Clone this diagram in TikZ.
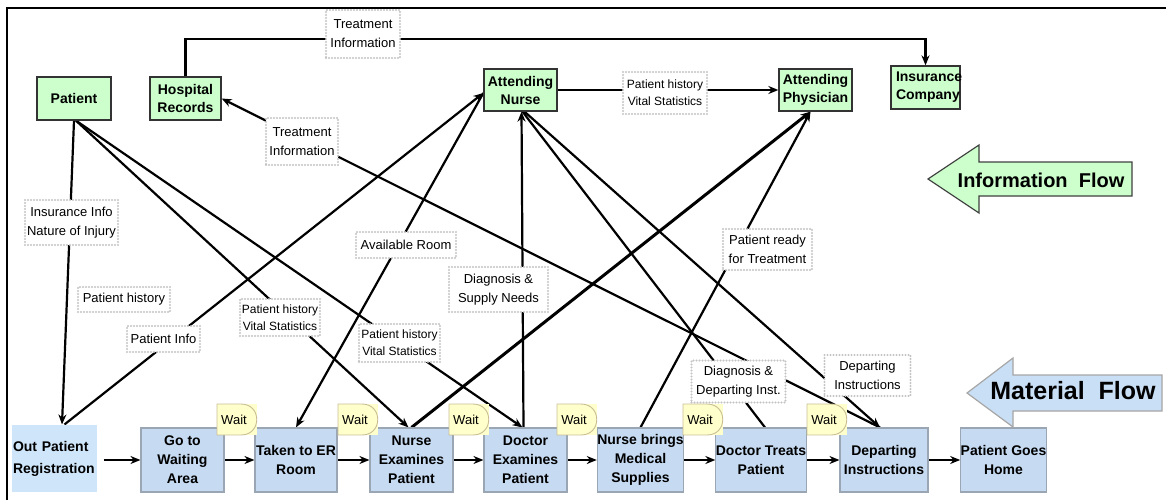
\documentclass[tikz,border=0pt]{standalone}
\usepackage{fontspec}
\setmainfont{Liberation Sans}
\usetikzlibrary{arrows.meta}
\pgfdeclarelayer{bg}
\pgfsetlayers{bg,main}
\definecolor{gfill}{HTML}{CCFFCC}
\definecolor{pfill}{HTML}{C6DAF1}
\definecolor{pdraw}{HTML}{9AA6B4}
\definecolor{ofill}{HTML}{CFE6FA}
\definecolor{mfill}{HTML}{C9DFF5}
\definecolor{wfill}{HTML}{FFFFCC}
\definecolor{wdraw}{HTML}{C9BD95}
\definecolor{ldraw}{HTML}{C4C4C4}
\tikzset{
 gbox/.style={draw=black!80, line width=1.3pt, fill=gfill, align=center, inner sep=0pt,
   font=\fontsize{14}{18}\selectfont\bfseries, minimum width=73pt, minimum height=43pt},
 lbl/.style={draw=ldraw, dash pattern=on 0pt off 3pt, line cap=round, line width=2.2pt, fill=white, align=center,
   inner sep=0pt, font=\fontsize{13}{19}\selectfont},
 slbl/.style={lbl, font=\fontsize{12}{17}\selectfont},
 pbox/.style={draw=pdraw, line width=1.1pt, fill=pfill, align=center, inner sep=0pt,
   font=\fontsize{14}{19}\selectfont\bfseries, minimum width=83pt, minimum height=64pt},
 conn/.style={line width=2.2pt, black},
 arr/.style={conn, -{Stealth[length=10pt,width=8pt]}},
 waittxt/.style={font=\fontsize{13}{15}\selectfont, inner sep=0pt},
}
\newcommand\waitmark[3]{%
 \fill[wfill] (#2,#3) rectangle (#2+40,#3+31);
 \draw[wdraw, line width=0.9pt] (#2,#3) -- (#2+24,#3) .. controls (#2+45,#3) and (#2+45,#3+31) .. (#2+24,#3+31) -- (#2,#3+31) -- cycle;
 \node[waittxt] (#1) at (#2+17,#3+16) {Wait};
}
\begin{document}
\begin{tikzpicture}[x=1pt,y=-1pt]
\useasboundingbox (0,0) rectangle (1166,500);
\draw[line width=1.8pt] (7,500) -- (7,8) -- (1166,8);

% information nodes
\node[gbox, minimum width=74pt] (Patient) at (74,98.5) {Patient};
\node[gbox, minimum width=71pt] (HospRec) at (185.5,98.5) {Hospital\\Records};
\node[gbox, minimum height=42pt] (Nurse) at (520.5,90) {Attending\\Nurse};
\node[gbox, minimum height=42pt] (Physician) at (815.5,90) {Attending\\Physician};
\node[gbox, text width=59pt, align=left, inner xsep=5pt, minimum width=69pt] (Insurance) at (925.5,87.5) {Insurance\\Company};

% labels
\node[lbl, minimum width=74pt, minimum height=48pt] (TIa) at (363,34) {Treatment\\Information};
\node[lbl, minimum width=72pt, minimum height=47pt] (TIb) at (302,141.5) {Treatment\\Information};
\node[slbl, minimum width=84pt, minimum height=42pt] (PHtop) at (665,93) {Patient history\\Vital Statistics};
\node[lbl, minimum width=93pt, minimum height=45pt] (InsInfo) at (71.5,222.5) {Insurance Info\\Nature of Injury};
\node[lbl, minimum width=92pt, minimum height=25pt] (PatHist) at (124,299.5) {Patient history};
\node[lbl, minimum width=73pt, minimum height=26pt] (PatInfo) at (163.5,339) {Patient Info};
\node[lbl, minimum width=100pt, minimum height=26pt] (AvRoom) at (406,245) {Available Room};
\node[slbl, minimum width=80pt, minimum height=37pt] (PHleft) at (280,317.5) {Patient history\\Vital Statistics};
\node[slbl, minimum width=81pt, minimum height=38pt] (PHmid) at (399.5,343) {Patient history\\Vital Statistics};
\node[lbl, minimum width=99pt, minimum height=45pt] (DiagSup) at (498.5,289.5) {Diagnosis \&\\Supply Needs};
\node[lbl, minimum width=89pt, minimum height=41pt] (PatReady) at (767.5,249.5) {Patient ready\\for Treatment};
\node[lbl, minimum width=94pt, minimum height=42pt] (DiagDep) at (738.5,381.5) {Diagnosis \&\\Departing Inst.};
\node[lbl, minimum width=86pt, minimum height=41pt] (DepInstr) at (867.5,375.5) {Departing\\Instructions};

% process nodes
\node[pbox, fill=ofill, draw=none, minimum width=85pt, minimum height=67pt, text width=83pt,
  align=left, inner xsep=1pt, font=\fontsize{14}{22}\selectfont\bfseries] (OPR) at (54.5,458.5) {Out Patient\\Registration};
\node[pbox] (GoTo) at (182.5,460) {Go to\\Waiting\\Area};
\node[pbox, minimum width=82pt] (TakenER) at (296,460) {Taken to ER\\Room};
\node[pbox] (NurseEx) at (411.5,460) {Nurse\\Examines\\Patient};
\node[pbox] (DocEx) at (525.5,460) {Doctor\\Examines\\Patient};
\node[pbox] (NurseBr) at (640.5,460) {Nurse brings\\Medical\\Supplies};
\node[pbox, minimum width=82pt] (DocTr) at (761,460) {Doctor Treats\\Patient};
\node[pbox, minimum width=88pt] (DepIn) at (884,460) {Departing\\Instructions};
\node[pbox, minimum width=85pt] (Home) at (1003.5,460) {Patient Goes\\Home};

% wait marks
\waitmark{W1}{217}{404}
\waitmark{W2}{338}{404}
\waitmark{W3}{449}{404}
\waitmark{W4}{557}{404}
\waitmark{W5}{683}{404}
\waitmark{W6}{807}{404}

% flow arrows
\draw[fill=gfill, draw=black!75, line width=1.2pt] (928,179) -- (979,145) -- (979,162) -- (1132,162) -- (1132,196) -- (979,196) -- (979,213) -- cycle;
\node[font=\fontsize{20}{24}\selectfont\bfseries] (InfoFlow) at (1041,180) {Information\ \ Flow};
\draw[fill=mfill, draw=gray!70, line width=1.2pt] (967,393) -- (1013,358) -- (1013,375) -- (1162,375) -- (1162,411) -- (1013,411) -- (1013,427) -- cycle;
\node[font=\fontsize{25}{30}\selectfont\bfseries] (MatFlow) at (1073,391) {Material\ \ Flow};

% connectors
\begin{pgfonlayer}{bg}
\draw[arr] (HospRec.north) -- ++(0,-37) -| (Insurance.north);
\draw[arr] (Nurse.east) -- (Physician.west);
\draw[arr] (Patient.south) -- ([xshift=7.5pt]OPR.north);
\draw[arr] ([xshift=10pt]OPR.north) -- ([yshift=-3pt]Nurse.west);
\draw[arr] ([yshift=-3pt]Nurse.west) -- (TakenER.north);
\draw[arr] ([xshift=2pt]Patient.south) -- ([xshift=-3pt]NurseEx.north);
\draw[arr] ([xshift=2pt]Patient.south) -- ([xshift=-3pt]DocEx.north);
\draw[arr] ([xshift=-2pt]DocEx.north) -- ([xshift=1pt]Nurse.south);
\draw[conn] ([xshift=2pt]Nurse.south) -- ([xshift=4pt]DocTr.north);
\draw[arr] ([xshift=4pt]Nurse.south) -- ([xshift=-4pt]DepIn.north);
\draw[arr] ([xshift=-4pt]DepIn.north) -- (HospRec.east);
\draw[arr, line width=3pt] (NurseEx.north) -- ([xshift=-5pt]Physician.south);
\draw[arr] (NurseBr.north) -- ([xshift=-5pt]Physician.south);
\draw[arr, shorten <=6pt] (OPR.east |- GoTo.west) -- (GoTo.west);
\draw[arr] (GoTo.east) -- (TakenER.west);
\draw[arr] (TakenER.east) -- (NurseEx.west);
\draw[arr] (NurseEx.east) -- (DocEx.west);
\draw[arr] (DocEx.east) -- (NurseBr.west);
\draw[arr] (NurseBr.east) -- (DocTr.west);
\draw[arr] (DocTr.east) -- (DepIn.west);
\draw[arr] (DepIn.east) -- (Home.west);
\end{pgfonlayer}
\end{tikzpicture}
\end{document}
